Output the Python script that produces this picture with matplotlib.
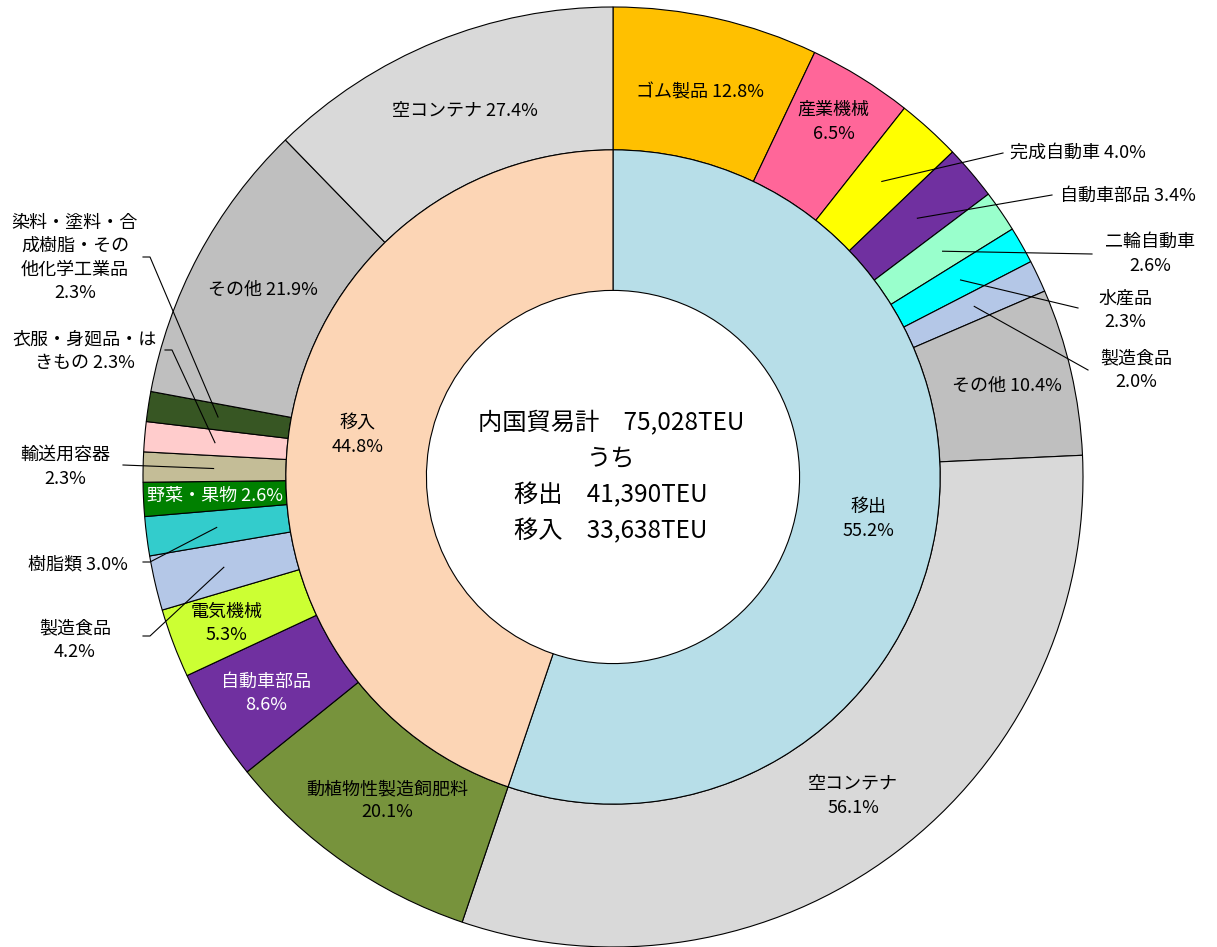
import numpy as np
import matplotlib
matplotlib.use("Agg")
import matplotlib.pyplot as plt

plt.rcParams['font.family'] = ['Noto Sans CJK JP', 'DejaVu Sans']

# ---------------- data ----------------
inner_labels = ['移出', '移入']
inner_pct = [55.2, 44.8]
inner_colors = ['#B7DEE8', '#FCD5B5']

out_labels = ['ゴム製品', '産業機械', '完成自動車', '自動車部品', '二輪自動車',
              '水産品', '製造食品', 'その他', '空コンテナ']
out_pct = [12.8, 6.5, 4.0, 3.4, 2.6, 2.3, 2.0, 10.4, 56.1]
out_colors = ['#FFC000', '#FF6699', '#FFFF00', '#7030A0', '#99FFCC',
              '#00FFFF', '#B4C7E7', '#BFBFBF', '#D9D9D9']

in_labels = ['動植物性製造飼肥料', '自動車部品', '電気機械', '製造食品', '樹脂類',
             '野菜・果物', '輸送用容器', '衣服・身廻品・はきもの',
             '染料・塗料・合成樹脂・その他化学工業品', 'その他', '空コンテナ']
in_pct = [20.1, 8.6, 5.3, 4.2, 3.0, 2.6, 2.3, 2.3, 2.3, 21.9, 27.4]
in_colors = ['#77933C', '#7030A0', '#CCFF33', '#B4C7E7', '#33CCCC',
             '#008000', '#C4BD97', '#FFCCCC', '#375623', '#BFBFBF', '#D9D9D9']

center_lines = ['内国貿易計　75,028TEU', 'うち', '移出　41,390TEU', '移入　33,638TEU']

# display text (line breaks) for each wedge
out_texts = ['ゴム製品 {p}', '産業機械\n{p}', '完成自動車 {p}', '自動車部品 {p}',
             '二輪自動車\n{p}', '水産品\n{p}', '製造食品\n{p}', 'その他 {p}', '空コンテナ\n{p}']
in_texts = ['動植物性製造飼肥料\n{p}', '自動車部品\n{p}', '電気機械\n{p}', '製造食品\n{p}',
            '樹脂類 {p}', '野菜・果物 {p}', '輸送用容器\n{p}', '衣服・身廻品・は\nきもの {p}',
            '染料・塗料・合\n成樹脂・その\n他化学工業品\n{p}', 'その他 {p}', '空コンテナ {p}']

# ---------------- layout ----------------
W, H = 1217, 947
CX, CY, R = 613, 477, 470
R_IN = 0.696
R_HOLE = 0.397


def px(x, y):
    return ((x - CX) / R, (CY - y) / R)


fig = plt.figure(figsize=(W / 100, H / 100), dpi=100)
ax = fig.add_axes([0, 0, 1, 1])

# outer ring values as share of total
out_tot = sum(out_pct)
in_tot = sum(in_pct)
outer_vals = [v / out_tot * inner_pct[0] for v in out_pct] + [v / in_tot * inner_pct[1] for v in in_pct]
outer_cols = out_colors + in_colors

wp = dict(edgecolor='black', linewidth=0.8)
ax.pie(outer_vals, radius=1.0, colors=outer_cols, startangle=90, counterclock=False,
       wedgeprops=dict(width=1 - R_IN, **wp))
ax.pie(inner_pct, radius=R_IN, colors=inner_colors, startangle=90, counterclock=False,
       wedgeprops=dict(width=R_IN - R_HOLE, **wp))

ax.set_xlim(-CX / R, (W - CX) / R)
ax.set_ylim((CY - H) / R, CY / R)
ax.set_aspect('equal')
ax.axis('off')

# mid angles
cum = np.cumsum([0] + outer_vals)
mids = [(cum[i] + cum[i + 1]) / 2 for i in range(len(outer_vals))]
total = cum[-1]


def polar(frac, r):
    th = np.deg2rad(90 - 360 * frac / total)
    return r * np.cos(th), r * np.sin(th)


FS = 13
LS = 1.4
all_texts = [t.format(p=f'{v:.1f}%') for t, v in zip(out_texts, out_pct)] + \
            [t.format(p=f'{v:.1f}%') for t, v in zip(in_texts, in_pct)]
text_colors = ['black'] * len(all_texts)
text_colors[len(out_texts) + 1] = 'white'  # 自動車部品 (移入)
text_colors[len(out_texts) + 5] = 'white'  # 野菜・果物

n_out = len(out_texts)
# inside labels: index -> radius
inside = {0: 0.84, 1: 0.89, 7: 0.86, 8: 0.85,
          n_out + 0: 0.84, n_out + 1: 0.87, n_out + 2: 0.88, n_out + 5: 0.848,
          n_out + 9: 0.845, n_out + 10: 0.84}
for i, r in inside.items():
    x, y = polar(mids[i], r)
    ax.text(x, y, all_texts[i], ha='center', va='center', fontsize=FS,
            color=text_colors[i], linespacing=LS)

# callouts: index -> (text x, text y, ha, [line points after wedge point])
callouts = {
    2: ((1010, 153), 'left', [(1003, 153)]),
    3: ((1060, 196), 'left', [(1052, 195)]),
    4: ((1150, 254), 'center', [(1092, 254)]),
    5: ((1125, 310), 'center', [(1078, 308)]),
    6: ((1136, 370), 'center', [(1088, 370)]),
    n_out + 3: ((75, 640), 'center', [(150, 636), (143, 636)]),
    n_out + 4: ((78, 565), 'center', [(150, 562), (143, 562)]),
    n_out + 6: ((65, 467), 'center', [(123, 465)]),
    n_out + 7: ((85, 351), 'center', [(172, 350), (165, 350)]),
    n_out + 8: ((75, 258), 'center', [(150, 257), (143, 257)]),
}
for i, ((tx, ty), ha, pts) in callouts.items():
    sx, sy = polar(mids[i], 0.85)
    xs = [sx] + [px(*p)[0] for p in pts]
    ys = [sy] + [px(*p)[1] for p in pts]
    ax.plot(xs, ys, color='black', linewidth=0.8)
    x, y = px(tx, ty)
    ax.text(x, y, all_texts[i], ha=ha, va='center', fontsize=FS,
            color=text_colors[i], linespacing=LS, multialignment='center')

# inner ring labels
cum_in = np.cumsum([0] + inner_pct)
for k in range(2):
    m = (cum_in[k] + cum_in[k + 1]) / 2
    th = np.deg2rad(90 - 360 * m / 100)
    r = 0.55
    ax.text(r * np.cos(th), r * np.sin(th), f'{inner_labels[k]}\n{inner_pct[k]:.1f}%',
            ha='center', va='center', fontsize=FS, linespacing=LS)

# center text
for j, line in enumerate(center_lines):
    x, y = px(611, 423 + 36 * j)
    ax.text(x, y, line, ha='center', va='center', fontsize=17.5)

fig.savefig('out.png', dpi=100)
